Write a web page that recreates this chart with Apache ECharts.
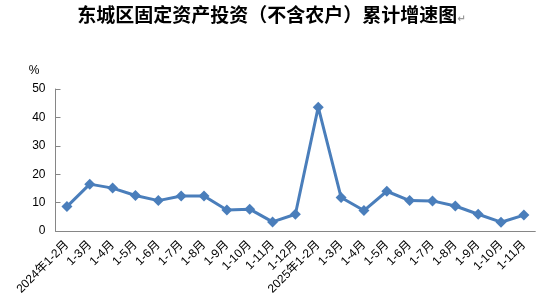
<!DOCTYPE html>
<html><head><meta charset="utf-8">
<script src="https://cdn.jsdelivr.net/npm/echarts@6/dist/echarts.min.js"></script>
<style>html,body{margin:0;padding:0;background:#fff}#c{width:543px;height:302px}</style>
</head><body><div id="c"></div>
<script>
var categories = ['2024年1-2月','1-3月','1-4月','1-5月','1-6月','1-7月','1-8月','1-9月','1-10月','1-11月','1-12月',
  '2025年1-2月','1-3月','1-4月','1-5月','1-6月','1-7月','1-8月','1-9月','1-10月','1-11月'];
var growth = [8.6,16.5,15.1,12.5,10.7,12.3,12.3,7.4,7.7,3.2,5.9,43.6,11.8,7.2,14.0,10.7,10.6,8.8,5.9,3.1,5.6];
var yTicks = [0,10,20,30,40,50];
var chart = echarts.init(document.getElementById('c'));
chart.setOption({
  animation:false,
  title:{
    text:'{t|东城区固定资产投资（不含农户）累计增速图}{m|↵}',
    left:'center', top:0,
    textStyle:{rich:{
      t:{fontFamily:'Noto Sans CJK SC',fontWeight:'bold',fontSize:19,color:'#000'},
      m:{fontFamily:'DejaVu Sans',fontSize:10,color:'#999',verticalAlign:'bottom',padding:[8,0,0,0]}
    }}
  },
  grid:{left:55.5,right:7.7,top:89,bottom:71,containLabel:false},
  xAxis:{
    type:'category', data:categories, boundaryGap:true,
    axisLine:{lineStyle:{color:'#868686',width:1}},
    axisTick:{inside:true,length:5,lineStyle:{color:'#868686'},alignWithLabel:false},
    axisLabel:{rotate:45,interval:0,fontSize:12,color:'#000',fontFamily:'Liberation Sans, Noto Sans CJK SC',margin:12}
  },
  yAxis:{
    type:'value', min:0, max:50, interval:10,
    name:'%', nameLocation:'end', nameGap:12,
    nameTextStyle:{fontSize:12,color:'#000',fontFamily:'Liberation Sans',align:'right',padding:[0,16,0,0]},
    axisLine:{show:true,lineStyle:{color:'#868686',width:1}},
    axisTick:{show:true,inside:true,length:5,lineStyle:{color:'#868686'}},
    splitLine:{show:false},
    axisLabel:{fontSize:12,color:'#000',fontFamily:'Liberation Sans',margin:10,
      formatter:function(v){return yTicks.indexOf(v)>=0?String(v):'';}}
  },
  series:[{
    type:'line', data:growth,
    symbol:'diamond', symbolSize:11,
    lineStyle:{color:'#4a7ebb',width:3},
    itemStyle:{color:'#4a7ebb'}
  }]
});
</script></body></html>
